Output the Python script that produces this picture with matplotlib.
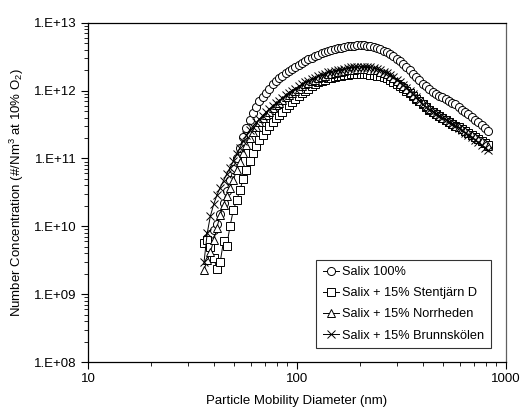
import numpy as np
import matplotlib
matplotlib.use("Agg")
import matplotlib.pyplot as plt
from matplotlib.ticker import LogLocator, FuncFormatter, NullFormatter

plt.rcParams['font.family'] = ['Liberation Sans', 'DejaVu Sans']
plt.rcParams['mathtext.fontset'] = 'custom'
plt.rcParams['mathtext.rm'] = 'Liberation Sans'
plt.rcParams['mathtext.it'] = 'Liberation Sans:italic'

# SMPS channel mid-point diameters (nm)
diameter = [35.9, 37.2, 38.5, 40.0, 41.4, 42.9, 44.5, 46.1, 47.8, 49.6,
            51.4, 53.3, 55.2, 57.3, 59.4, 61.5, 63.8, 66.1, 68.5, 71.0,
            73.7, 76.4, 79.1, 82.0, 85.1, 88.2, 91.4, 94.7, 98.2, 101.8,
            105.5, 109.4, 113.4, 117.6, 121.9, 126.3, 131.0, 135.8, 140.7, 145.9,
            151.2, 156.8, 162.5, 168.5, 174.7, 181.1, 187.7, 194.6, 201.7, 209.1,
            216.7, 224.7, 232.9, 241.4, 250.3, 259.5, 269.0, 278.8, 289.0, 299.6,
            310.6, 322.0, 333.8, 346.0, 358.7, 371.8, 385.4, 399.5, 414.2, 429.4,
            445.1, 461.4, 478.3, 495.8, 514.0, 532.8, 552.3, 572.5, 593.5, 615.3,
            637.8, 661.2, 685.4, 710.5, 736.5, 763.5, 791.5, 820.5]

# log10 of number concentration (#/Nm3 at 10% O2)
salix100_log = [9.76, 9.83, 9.88, 9.95, 10.03, 10.18, 10.35, 10.52, 10.68, 10.84,
                11.00, 11.16, 11.31, 11.45, 11.57, 11.67, 11.76, 11.84, 11.91, 11.97,
                12.03, 12.09, 12.14, 12.18, 12.22, 12.26, 12.29, 12.32, 12.35, 12.38,
                12.41, 12.44, 12.46, 12.48, 12.51, 12.53, 12.55, 12.57, 12.59, 12.60,
                12.61, 12.62, 12.63, 12.64, 12.65, 12.66, 12.66, 12.67, 12.67, 12.67,
                12.66, 12.65, 12.64, 12.63, 12.61, 12.59, 12.57, 12.54, 12.51, 12.47,
                12.43, 12.39, 12.35, 12.30, 12.25, 12.20, 12.15, 12.10, 12.06, 12.02,
                11.98, 11.95, 11.92, 11.90, 11.87, 11.84, 11.82, 11.80, 11.76, 11.72,
                11.68, 11.65, 11.61, 11.57, 11.53, 11.49, 11.45, 11.41]

stentjarn_log = [9.75, 9.80, 9.70, 9.53, 9.37, 9.47, 9.78, 9.71, 10.00, 10.24,
                 10.38, 10.53, 10.69, 10.83, 10.96, 11.08, 11.18, 11.27, 11.35, 11.42,
                 11.48, 11.54, 11.59, 11.64, 11.69, 11.74, 11.79, 11.83, 11.88, 11.92,
                 11.96, 12.00, 12.03, 12.06, 12.09, 12.12, 12.14, 12.16, 12.18, 12.19,
                 12.20, 12.21, 12.22, 12.23, 12.23, 12.24, 12.24, 12.24, 12.24, 12.24,
                 12.24, 12.23, 12.23, 12.22, 12.21, 12.20, 12.18, 12.16, 12.13, 12.10,
                 12.07, 12.04, 12.00, 11.96, 11.92, 11.88, 11.84, 11.80, 11.76, 11.72,
                 11.68, 11.65, 11.62, 11.59, 11.56, 11.53, 11.50, 11.48, 11.46, 11.43,
                 11.40, 11.38, 11.35, 11.32, 11.29, 11.26, 11.23, 11.20]

norrheden_log = [9.36, 9.50, 9.62, 9.80, 9.98, 10.17, 10.31, 10.45, 10.57, 10.68,
                 10.83, 10.95, 11.08, 11.20, 11.30, 11.39, 11.47, 11.54, 11.59, 11.64,
                 11.69, 11.74, 11.78, 11.82, 11.86, 11.90, 11.94, 11.97, 12.00, 12.03,
                 12.06, 12.09, 12.11, 12.14, 12.16, 12.18, 12.20, 12.22, 12.24, 12.25,
                 12.26, 12.27, 12.28, 12.29, 12.30, 12.31, 12.31, 12.32, 12.32, 12.32,
                 12.32, 12.31, 12.31, 12.30, 12.28, 12.26, 12.24, 12.21, 12.18, 12.14,
                 12.10, 12.06, 12.02, 11.98, 11.94, 11.89, 11.85, 11.81, 11.77, 11.73,
                 11.69, 11.66, 11.63, 11.60, 11.57, 11.54, 11.51, 11.48, 11.46, 11.43,
                 11.40, 11.37, 11.34, 11.31, 11.28, 11.25, 11.22, 11.18]

brunnskolen_log = [9.47, 9.90, 10.15, 10.33, 10.46, 10.57, 10.67, 10.77, 10.86, 10.96,
                   11.06, 11.16, 11.25, 11.34, 11.42, 11.47, 11.53, 11.58, 11.63, 11.68,
                   11.73, 11.77, 11.81, 11.85, 11.89, 11.93, 11.97, 12.00, 12.03, 12.06,
                   12.09, 12.12, 12.14, 12.17, 12.19, 12.21, 12.23, 12.25, 12.27, 12.28,
                   12.29, 12.30, 12.31, 12.32, 12.33, 12.34, 12.34, 12.35, 12.35, 12.35,
                   12.34, 12.34, 12.33, 12.32, 12.30, 12.28, 12.26, 12.23, 12.20, 12.16,
                   12.12, 12.08, 12.04, 12.00, 11.95, 11.90, 11.85, 11.80, 11.76, 11.72,
                   11.69, 11.66, 11.63, 11.60, 11.57, 11.54, 11.51, 11.48, 11.45, 11.42,
                   11.38, 11.35, 11.31, 11.27, 11.24, 11.20, 11.16, 11.12]

labels = ["Salix 100%", "Salix + 15% Stentjärn D",
          "Salix + 15% Norrheden", "Salix + 15% Brunnskölen"]
markers = ["o", "s", "^", "x"]
series = [salix100_log, stentjarn_log, norrheden_log, brunnskolen_log]

x_ticks = [10, 100, 1000]
x_ticklabels = ["10", "100", "1000"]
y_ticks = [1e8, 1e9, 1e10, 1e11, 1e12, 1e13]

fig = plt.figure(figsize=(5.23, 4.15), dpi=100)
ax = fig.add_axes([88/523, 1-362/415, (506-88)/523, (362-22.7)/415])

for vals, m, lab in zip(series, markers, labels):
    y = 10 ** np.asarray(vals)
    ms = 5.8 if m != "x" else 5.4
    ax.plot(diameter, y, color="black", lw=0.7, marker=m, ms=ms,
            mfc="white", mec="black", mew=0.7, label=lab)

ax.set_xscale("log")
ax.set_yscale("log")
ax.set_xlim(10, 1000)
ax.set_ylim(1e8, 1e13)
ax.set_xticks(x_ticks)
ax.set_xticklabels(x_ticklabels)
ax.set_yticks(y_ticks)
ax.yaxis.set_major_formatter(FuncFormatter(lambda v, p: "1.E+%02d" % int(round(np.log10(v)))))
ax.xaxis.set_minor_locator(LogLocator(base=10, subs=np.arange(2, 10)))
ax.yaxis.set_minor_locator(LogLocator(base=10, subs=np.arange(2, 10)))
ax.xaxis.set_minor_formatter(NullFormatter())
ax.yaxis.set_minor_formatter(NullFormatter())
ax.tick_params(which="major", direction="out", length=5, width=0.8, labelsize=9.5, pad=3)
ax.tick_params(which="minor", direction="out", length=3, width=0.6)
ax.tick_params(top=False, right=False)

for s in ["left", "bottom", "top"]:
    ax.spines[s].set_color("black")
    ax.spines[s].set_linewidth(0.9)
ax.spines["right"].set_color("#606060")
ax.spines["right"].set_linewidth(0.9)

ax.set_xlabel("Particle Mobility Diameter (nm)", fontsize=9.5, labelpad=7)
ax.set_ylabel(r"Number Concentration (#/Nm$\mathregular{^3}$ at 10% O$\mathregular{_2}$)",
              fontsize=9.5, labelpad=6)

leg = ax.legend(loc="lower right", bbox_to_anchor=(491/523, 1-348/415),
                bbox_transform=fig.transFigure, fontsize=9.2, frameon=True,
                fancybox=False, edgecolor="black", handlelength=1.3,
                handletextpad=0.25, labelspacing=0.72, borderpad=0.5,
                borderaxespad=0)
leg.get_frame().set_linewidth(0.8)

fig.savefig("out.png", dpi=100)
